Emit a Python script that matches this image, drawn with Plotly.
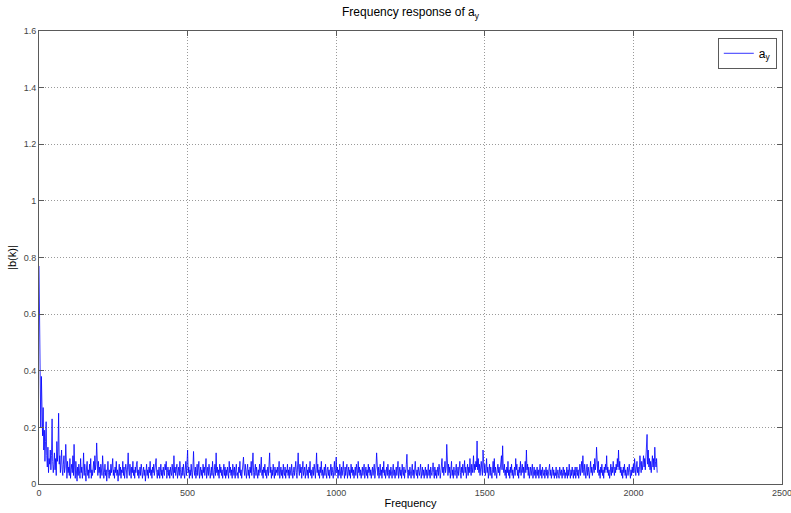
import numpy as np
import plotly.graph_objects as go

# Magnitude spectrum |b(k)| sampled every 2 Hz from 0 to 2080 Hz
freq_step = 2
magnitude = [
    # 0 - 98
    0.77, 0.53, 0.28, 0.20, 0.38, 0.30, 0.17, 0.27, 0.12, 0.19,
    0.08, 0.15, 0.22, 0.10, 0.06, 0.13, 0.04, 0.09, 0.07, 0.12,
    0.05, 0.10, 0.23, 0.08, 0.04, 0.07, 0.11, 0.05, 0.09, 0.03,
    0.15, 0.08, 0.12, 0.25, 0.07, 0.10, 0.04, 0.08, 0.12, 0.05,
    0.03, 0.07, 0.10, 0.04, 0.06, 0.14, 0.05, 0.02, 0.08, 0.04,
    # 100 - 198
    0.06, 0.03, 0.09, 0.02, 0.05, 0.07, 0.04, 0.10, 0.03, 0.14,
    0.06, 0.02, 0.08, 0.04, 0.01, 0.06, 0.03, 0.07, 0.05, 0.02,
    0.09, 0.04, 0.06, 0.02, 0.05, 0.11, 0.03, 0.07, 0.04, 0.01,
    0.06, 0.08, 0.03, 0.05, 0.02, 0.07, 0.04, 0.09, 0.02, 0.05,
    0.03, 0.06, 0.08, 0.04, 0.10, 0.05, 0.07, 0.145, 0.06, 0.03,
    # 200 - 298
    0.08, 0.04, 0.06, 0.02, 0.07, 0.05, 0.03, 0.10, 0.06, 0.02,
    0.04, 0.07, 0.03, 0.05, 0.01, 0.06, 0.08, 0.04, 0.02, 0.05,
    0.03, 0.07, 0.04, 0.06, 0.09, 0.03, 0.05, 0.02, 0.06, 0.04,
    0.08, 0.03, 0.05, 0.01, 0.04, 0.07, 0.03, 0.06, 0.02, 0.05,
    0.04, 0.08, 0.03, 0.06, 0.02, 0.04, 0.07, 0.05, 0.02, 0.06,
    # 300 - 398
    0.11, 0.05, 0.03, 0.07, 0.04, 0.02, 0.06, 0.04, 0.08, 0.03,
    0.05, 0.02, 0.06, 0.04, 0.07, 0.08, 0.03, 0.05, 0.02, 0.04,
    0.06, 0.03, 0.07, 0.05, 0.02, 0.04, 0.06, 0.03, 0.05, 0.01,
    0.04, 0.07, 0.03, 0.05, 0.02, 0.06, 0.04, 0.08, 0.03, 0.05,
    0.02, 0.06, 0.04, 0.07, 0.03, 0.05, 0.06, 0.09, 0.04, 0.02,
    # 400 - 498
    0.05, 0.03, 0.06, 0.02, 0.04, 0.07, 0.03, 0.05, 0.02, 0.06,
    0.04, 0.03, 0.07, 0.05, 0.08, 0.02, 0.04, 0.06, 0.03, 0.05,
    0.02, 0.06, 0.04, 0.03, 0.07, 0.05, 0.02, 0.10, 0.04, 0.06,
    0.03, 0.05, 0.07, 0.02, 0.04, 0.06, 0.03, 0.08, 0.05, 0.02,
    0.04, 0.06, 0.03, 0.07, 0.04, 0.02, 0.05, 0.08, 0.03, 0.06,
    # 500 - 598
    0.12, 0.04, 0.06, 0.02, 0.05, 0.03, 0.07, 0.04, 0.02, 0.06,
    0.115, 0.05, 0.03, 0.06, 0.02, 0.04, 0.07, 0.03, 0.05, 0.08,
    0.02, 0.04, 0.06, 0.03, 0.05, 0.02, 0.07, 0.04, 0.06, 0.03,
    0.05, 0.09, 0.02, 0.04, 0.06, 0.03, 0.07, 0.05, 0.02, 0.04,
    0.06, 0.03, 0.08, 0.04, 0.02, 0.05, 0.07, 0.03, 0.11, 0.04,
    # 600 - 698
    0.06, 0.03, 0.05, 0.02, 0.07, 0.04, 0.06, 0.03, 0.05, 0.02,
    0.04, 0.07, 0.03, 0.06, 0.02, 0.05, 0.03, 0.06, 0.04, 0.02,
    0.08, 0.04, 0.06, 0.03, 0.05, 0.02, 0.07, 0.04, 0.03, 0.06,
    0.02, 0.05, 0.07, 0.03, 0.04, 0.02, 0.06, 0.04, 0.08, 0.03,
    0.05, 0.02, 0.04, 0.06, 0.095, 0.05, 0.03, 0.07, 0.04, 0.02,
    # 700 - 798
    0.05, 0.07, 0.03, 0.05, 0.02, 0.06, 0.04, 0.08, 0.03, 0.06,
    0.11, 0.04, 0.02, 0.05, 0.07, 0.03, 0.06, 0.04, 0.02, 0.05,
    0.03, 0.07, 0.04, 0.06, 0.095, 0.03, 0.05, 0.02, 0.06, 0.04,
    0.07, 0.03, 0.05, 0.02, 0.04, 0.06, 0.03, 0.08, 0.11, 0.04,
    0.06, 0.02, 0.05, 0.03, 0.07, 0.04, 0.02, 0.06, 0.03, 0.05,
    # 800 - 898
    0.04, 0.06, 0.03, 0.05, 0.08, 0.02, 0.04, 0.06, 0.03, 0.05,
    0.02, 0.07, 0.04, 0.03, 0.06, 0.02, 0.05, 0.04, 0.07, 0.03,
    0.05, 0.02, 0.06, 0.04, 0.03, 0.07, 0.05, 0.02, 0.04, 0.06,
    0.03, 0.05, 0.08, 0.04, 0.02, 0.06, 0.11, 0.05, 0.03, 0.07,
    0.04, 0.06, 0.02, 0.05, 0.08, 0.03, 0.04, 0.06, 0.02, 0.05,
    # 900 - 998
    0.07, 0.03, 0.05, 0.02, 0.06, 0.04, 0.08, 0.03, 0.05, 0.02,
    0.04, 0.06, 0.03, 0.07, 0.05, 0.02, 0.06, 0.11, 0.04, 0.07,
    0.03, 0.05, 0.02, 0.06, 0.04, 0.08, 0.03, 0.05, 0.02, 0.04,
    0.06, 0.03, 0.07, 0.04, 0.02, 0.05, 0.06, 0.03, 0.05, 0.02,
    0.04, 0.07, 0.03, 0.06, 0.04, 0.02, 0.05, 0.08, 0.03, 0.05,
    # 1000 - 1098
    0.095, 0.04, 0.06, 0.02, 0.05, 0.03, 0.07, 0.04, 0.02, 0.06,
    0.03, 0.05, 0.08, 0.04, 0.02, 0.06, 0.03, 0.05, 0.07, 0.02,
    0.04, 0.06, 0.03, 0.05, 0.02, 0.07, 0.04, 0.06, 0.03, 0.05,
    0.02, 0.04, 0.06, 0.03, 0.07, 0.05, 0.02, 0.08, 0.04, 0.06,
    0.03, 0.05, 0.02, 0.04, 0.06, 0.03, 0.05, 0.07, 0.02, 0.04,
    # 1100 - 1198
    0.06, 0.03, 0.05, 0.02, 0.07, 0.04, 0.06, 0.03, 0.05, 0.02,
    0.04, 0.06, 0.03, 0.05, 0.07, 0.02, 0.04, 0.06, 0.11, 0.05,
    0.03, 0.06, 0.02, 0.04, 0.07, 0.03, 0.05, 0.02, 0.06, 0.04,
    0.08, 0.03, 0.05, 0.02, 0.04, 0.06, 0.03, 0.07, 0.04, 0.02,
    0.05, 0.03, 0.06, 0.04, 0.02, 0.05, 0.07, 0.03, 0.05, 0.02,
    # 1200 - 1298
    0.04, 0.06, 0.03, 0.05, 0.08, 0.02, 0.04, 0.06, 0.03, 0.05,
    0.02, 0.07, 0.04, 0.03, 0.06, 0.02, 0.05, 0.04, 0.07, 0.105,
    0.04, 0.02, 0.05, 0.03, 0.06, 0.04, 0.02, 0.05, 0.07, 0.03,
    0.05, 0.02, 0.06, 0.08, 0.04, 0.03, 0.05, 0.02, 0.06, 0.04,
    0.03, 0.05, 0.07, 0.02, 0.04, 0.06, 0.03, 0.05, 0.02, 0.04,
    # 1300 - 1398
    0.06, 0.03, 0.05, 0.02, 0.04, 0.07, 0.03, 0.05, 0.02, 0.06,
    0.04, 0.03, 0.05, 0.075, 0.04, 0.02, 0.06, 0.03, 0.05, 0.02,
    0.04, 0.06, 0.03, 0.07, 0.05, 0.02, 0.04, 0.06, 0.09, 0.04,
    0.06, 0.03, 0.05, 0.08, 0.04, 0.06, 0.14, 0.05, 0.03, 0.07,
    0.04, 0.06, 0.02, 0.05, 0.08, 0.03, 0.05, 0.02, 0.06, 0.04,
    # 1400 - 1498
    0.03, 0.05, 0.07, 0.02, 0.04, 0.06, 0.03, 0.05, 0.08, 0.04,
    0.02, 0.06, 0.04, 0.07, 0.03, 0.05, 0.083, 0.04, 0.06, 0.02,
    0.05, 0.07, 0.03, 0.06, 0.04, 0.09, 0.05, 0.03, 0.07, 0.04,
    0.06, 0.10, 0.04, 0.07, 0.05, 0.08, 0.06, 0.152, 0.05, 0.09,
    0.04, 0.07, 0.03, 0.06, 0.08, 0.05, 0.03, 0.12, 0.06, 0.04,
    # 1500 - 1598
    0.07, 0.03, 0.05, 0.09, 0.04, 0.06, 0.02, 0.05, 0.07, 0.03,
    0.06, 0.04, 0.02, 0.05, 0.08, 0.04, 0.09, 0.03, 0.06, 0.04,
    0.02, 0.05, 0.07, 0.04, 0.06, 0.03, 0.05, 0.08, 0.10, 0.05,
    0.135, 0.06, 0.04, 0.07, 0.03, 0.05, 0.02, 0.06, 0.04, 0.08,
    0.03, 0.05, 0.02, 0.06, 0.04, 0.07, 0.03, 0.05, 0.02, 0.04,
    # 1600 - 1698
    0.06, 0.03, 0.09, 0.05, 0.07, 0.03, 0.05, 0.02, 0.06, 0.04,
    0.08, 0.03, 0.05, 0.07, 0.04, 0.06, 0.02, 0.05, 0.08, 0.04,
    0.12, 0.05, 0.07, 0.03, 0.06, 0.02, 0.04, 0.06, 0.03, 0.05,
    0.07, 0.02, 0.04, 0.06, 0.03, 0.05, 0.02, 0.04, 0.06, 0.03,
    0.05, 0.02, 0.04, 0.07, 0.03, 0.05, 0.02, 0.06, 0.04, 0.03,
    # 1700 - 1798
    0.05, 0.02, 0.04, 0.06, 0.03, 0.05, 0.02, 0.04, 0.06, 0.07,
    0.03, 0.05, 0.02, 0.04, 0.06, 0.03, 0.05, 0.02, 0.04, 0.03,
    0.06, 0.02, 0.04, 0.05, 0.03, 0.02, 0.06, 0.04, 0.03, 0.05,
    0.02, 0.04, 0.06, 0.03, 0.05, 0.02, 0.04, 0.03, 0.06, 0.02,
    0.05, 0.03, 0.07, 0.04, 0.02, 0.05, 0.03, 0.06, 0.04, 0.02,
    # 1800 - 1898
    0.05, 0.03, 0.06, 0.02, 0.04, 0.06, 0.03, 0.05, 0.02, 0.04,
    0.07, 0.03, 0.05, 0.08, 0.04, 0.10, 0.05, 0.03, 0.07, 0.04,
    0.02, 0.05, 0.07, 0.03, 0.06, 0.04, 0.02, 0.05, 0.08, 0.04,
    0.06, 0.03, 0.05, 0.07, 0.04, 0.09, 0.05, 0.07, 0.13, 0.06,
    0.04, 0.08, 0.03, 0.05, 0.02, 0.06, 0.04, 0.07, 0.03, 0.05,
    # 1900 - 1998
    0.02, 0.06, 0.04, 0.07, 0.05, 0.10, 0.04, 0.06, 0.03, 0.05,
    0.02, 0.04, 0.07, 0.03, 0.06, 0.04, 0.08, 0.05, 0.03, 0.06,
    0.04, 0.07, 0.05, 0.09, 0.06, 0.12, 0.05, 0.08, 0.04, 0.06,
    0.03, 0.05, 0.02, 0.06, 0.04, 0.07, 0.03, 0.05, 0.02, 0.04,
    0.06, 0.03, 0.05, 0.07, 0.04, 0.02, 0.05, 0.03, 0.06, 0.04,
    # 2000 - 2080
    0.07, 0.04, 0.09, 0.05, 0.03, 0.06, 0.08, 0.04, 0.06, 0.03,
    0.05, 0.10, 0.06, 0.04, 0.08, 0.05, 0.07, 0.10, 0.06, 0.09,
    0.05, 0.08, 0.11, 0.175, 0.07, 0.12, 0.06, 0.09, 0.05, 0.08,
    0.04, 0.07, 0.10, 0.06, 0.09, 0.05, 0.13, 0.08, 0.06, 0.09,
    0.04,
]
frequency = np.arange(len(magnitude)) * freq_step

x_ticks = [0, 500, 1000, 1500, 2000, 2500]
y_ticks = [0, 0.2, 0.4, 0.6, 0.8, 1.0, 1.2, 1.4, 1.6]
y_tick_text = ["0", "0.2", "0.4", "0.6", "0.8", "1", "1.2", "1.4", "1.6"]

font_family = "Liberation Sans, Arial, Helvetica, sans-serif"

fig = go.Figure()
fig.add_trace(go.Scatter(
    x=frequency,
    y=magnitude,
    mode="lines",
    name="a<sub>y</sub>",
    line=dict(color="#0000ff", width=0.8),
))

axis_common = dict(
    showline=True,
    linecolor="#5a5a5a",
    linewidth=1,
    mirror="ticks",
    ticks="inside",
    ticklen=5,
    tickcolor="#5a5a5a",
    showgrid=True,
    gridcolor="#9a9a9a",
    griddash="1px,2px",
    gridwidth=1,
    zeroline=False,
    automargin=False,
    ticklabeloverflow="allow",
    tickfont=dict(family=font_family, size=9, color="#444444"),
)

fig.update_layout(
    width=791,
    height=513,
    margin=dict(l=39, r=9, t=31, b=29),
    paper_bgcolor="white",
    plot_bgcolor="white",
    font=dict(family=font_family, color="black"),
    title=dict(
        text="Frequency response of a<sub>y</sub>",
        x=0.5, xanchor="center", xref="paper",
        y=0.985, yanchor="top",
        font=dict(size=12, color="black"),
    ),
    xaxis=dict(
        range=[0, 2500],
        tickvals=x_ticks,
        title=dict(text="Frequency", font=dict(size=11, color="black"), standoff=2),
        **axis_common,
    ),
    yaxis=dict(
        range=[0, 1.6],
        tickvals=y_ticks,
        ticktext=y_tick_text,
        title=dict(text="|b(k)|", font=dict(size=11, color="black"), standoff=4),
        **axis_common,
    ),
    showlegend=True,
    legend=dict(
        x=0.993, y=0.985, xanchor="right", yanchor="top",
        bgcolor="white",
        bordercolor="#5a5a5a",
        borderwidth=1,
        font=dict(family=font_family, size=12, color="black"),
        itemwidth=30,
        tracegroupgap=0,
    ),
)

fig.write_html("out.html")
